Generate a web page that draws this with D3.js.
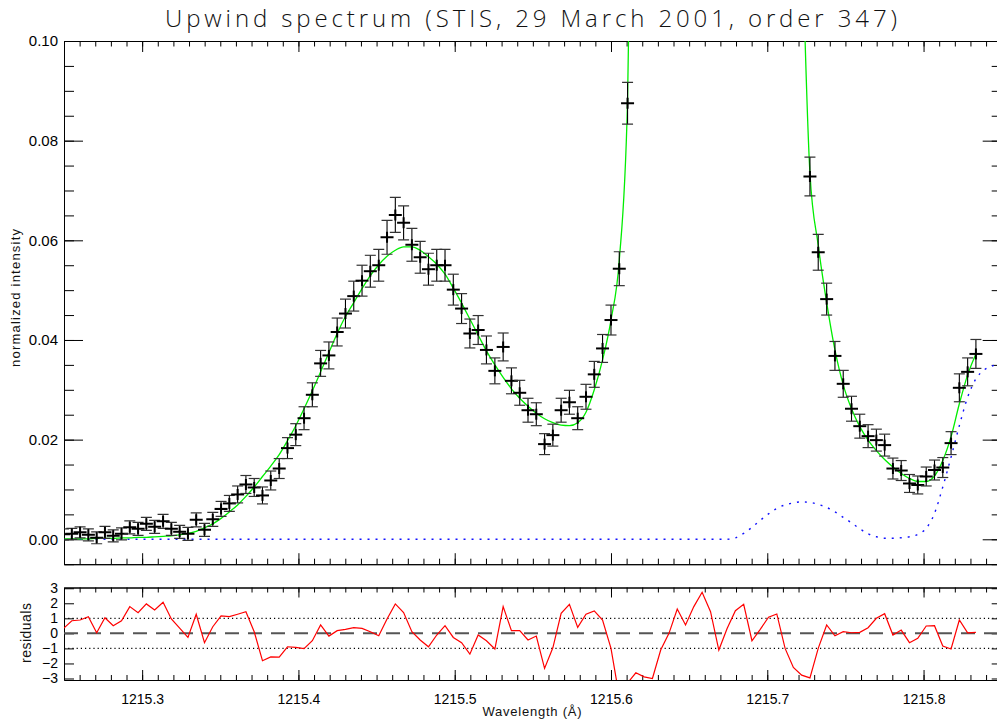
<!DOCTYPE html>
<html>
<head>
<meta charset="utf-8">
<script src="https://cdn.jsdelivr.net/npm/d3@7"></script>
<style>
  body { margin: 0; background: #fff; }
  svg { display: block; font-family: "Liberation Sans", Arial, sans-serif; }
  .axis path, .axis line { stroke: #000; }
  .axis text { fill: #000; font-family: "Liberation Sans", Arial, sans-serif; }
</style>
</head>
<body>
<script>
// wavelength grid of the spectrum (Angstrom)
var wave = [
  1215.2497, 1215.2550, 1215.2603, 1215.2656, 1215.2709, 1215.2762, 1215.2815, 1215.2868, 1215.2921, 1215.2974,
  1215.3027, 1215.3080, 1215.3134, 1215.3187, 1215.3240, 1215.3293, 1215.3346, 1215.3399, 1215.3452, 1215.3505,
  1215.3558, 1215.3611, 1215.3664, 1215.3717, 1215.3770, 1215.3823, 1215.3877, 1215.3930, 1215.3983, 1215.4036,
  1215.4089, 1215.4142, 1215.4195, 1215.4248, 1215.4301, 1215.4354, 1215.4407, 1215.4460, 1215.4514, 1215.4567,
  1215.4620, 1215.4673, 1215.4726, 1215.4779, 1215.4832, 1215.4885, 1215.4938, 1215.4991, 1215.5044, 1215.5097,
  1215.5150, 1215.5203, 1215.5257, 1215.5310, 1215.5363, 1215.5416, 1215.5469, 1215.5522, 1215.5575, 1215.5628,
  1215.5681, 1215.5734, 1215.5787, 1215.5840, 1215.5893, 1215.5946, 1215.6000, 1215.6053, 1215.6106, 1215.6159,
  1215.6212, 1215.6265, 1215.6318, 1215.6371, 1215.6424, 1215.6477, 1215.6530, 1215.6583, 1215.6637, 1215.6690,
  1215.6743, 1215.6796, 1215.6849, 1215.6902, 1215.6955, 1215.7008, 1215.7061, 1215.7114, 1215.7167, 1215.7220,
  1215.7273, 1215.7326, 1215.7380, 1215.7433, 1215.7486, 1215.7539, 1215.7592, 1215.7645, 1215.7698, 1215.7751,
  1215.7804, 1215.7857, 1215.7910, 1215.7963, 1215.8017, 1215.8070, 1215.8123, 1215.8176, 1215.8229, 1215.8282,
  1215.8335
];

// measured normalized intensity (null = off the top of the plot)
var flux = [
  0.0010, 0.0011, 0.0014, 0.0009, 0.0003, 0.0014, 0.0007, 0.0011, 0.0024, 0.0021,
  0.0031, 0.0025, 0.0036, 0.0021, 0.0015, 0.0011, 0.0039, 0.0019, 0.0040, 0.0061,
  0.0072, 0.0090, 0.0110, 0.0104, 0.0088, 0.0118, 0.0142, 0.0183, 0.0210, 0.0243,
  0.0290, 0.0353, 0.0369, 0.0416, 0.0453, 0.0488, 0.0519, 0.0538, 0.0550, 0.0606,
  0.0651, 0.0635, 0.0591, 0.0566, 0.0542, 0.0550, 0.0550, 0.0501, 0.0463, 0.0413,
  0.0420, 0.0380, 0.0338, 0.0386, 0.0318, 0.0294, 0.0259, 0.0251, 0.0191, 0.0209,
  0.0259, 0.0275, 0.0243, 0.0286, 0.0331, 0.0383, 0.0440, 0.0543, 0.0875, null,
  null, null, null, null, null, null, null, null, null, null,
  null, null, null, null, null, null, null, null, null, null,
  0.0728, 0.0576, 0.0482, 0.0368, 0.0312, 0.0262, 0.0227, 0.0207, 0.0199, 0.0189,
  0.0142, 0.0138, 0.0112, 0.0109, 0.0126, 0.0139, 0.0144, 0.0193, 0.0304, 0.0336,
  0.0372
];

var fluxErr = [
  0.0011, 0.0011, 0.0011, 0.0012, 0.0012, 0.0012, 0.0012, 0.0012, 0.0013, 0.0013,
  0.0013, 0.0013, 0.0014, 0.0013, 0.0013, 0.0013, 0.0014, 0.0013, 0.0014, 0.0015,
  0.0016, 0.0017, 0.0018, 0.0018, 0.0017, 0.0019, 0.0020, 0.0021, 0.0022, 0.0023,
  0.0024, 0.0026, 0.0027, 0.0028, 0.0029, 0.0030, 0.0031, 0.0032, 0.0032, 0.0034,
  0.0035, 0.0034, 0.0033, 0.0032, 0.0032, 0.0032, 0.0032, 0.0031, 0.0030, 0.0029,
  0.0029, 0.0028, 0.0026, 0.0028, 0.0026, 0.0025, 0.0024, 0.0023, 0.0021, 0.0022,
  0.0024, 0.0024, 0.0023, 0.0025, 0.0026, 0.0028, 0.0030, 0.0034, 0.0042, null,
  null, null, null, null, null, null, null, null, null, null,
  null, null, null, null, null, null, null, null, null, null,
  0.0039, 0.0036, 0.0032, 0.0029, 0.0027, 0.0025, 0.0024, 0.0023, 0.0022, 0.0022,
  0.0021, 0.0020, 0.0018, 0.0018, 0.0019, 0.0020, 0.0020, 0.0023, 0.0028, 0.0028,
  0.0029
];

// total fit (green)
var fitModel = [
  0.0001, 0.0001, 0.0001, 0.0001, 0.0002, 0.0002, 0.0002, 0.0003, 0.0003, 0.0004,
  0.0004, 0.0005, 0.0006, 0.0007, 0.0009, 0.0012, 0.0016, 0.0023, 0.0031, 0.0042,
  0.0055, 0.0069, 0.0086, 0.0105, 0.0126, 0.0147, 0.0170, 0.0198, 0.0228, 0.0262,
  0.0298, 0.0336, 0.0375, 0.0413, 0.0447, 0.0475, 0.0503, 0.0529, 0.0551, 0.0568,
  0.0580, 0.0587, 0.0587, 0.0580, 0.0567, 0.0552, 0.0532, 0.0504, 0.0474, 0.0442,
  0.0410, 0.0378, 0.0350, 0.0325, 0.0302, 0.0283, 0.0267, 0.0253, 0.0242, 0.0234,
  0.0229, 0.0228, 0.0234, 0.0255, 0.0300, 0.0360, 0.0440, 0.0560, 0.0880, 0.2000,
  0.3000, 0.3500, 0.3800, 0.4000, 0.4000, 0.4000, 0.4000, 0.4000, 0.4000, 0.4000,
  0.4000, 0.4000, 0.4000, 0.4000, 0.3800, 0.3500, 0.3000, 0.2500, 0.2000, 0.1250,
  0.0735, 0.0590, 0.0475, 0.0380, 0.0310, 0.0262, 0.0226, 0.0199, 0.0178, 0.0160,
  0.0145, 0.0132, 0.0122, 0.0116, 0.0116, 0.0127, 0.0158, 0.0206, 0.0272, 0.0330,
  0.0372
];

// second component (blue dotted)
var compWave = [
  1215.2497, 1215.6690, 1215.6743, 1215.6796, 1215.6849, 1215.6902, 1215.6955, 1215.7008, 1215.7061, 1215.7114,
  1215.7167, 1215.7220, 1215.7273, 1215.7326, 1215.7380, 1215.7433, 1215.7486, 1215.7539, 1215.7592, 1215.7645,
  1215.7698, 1215.7751, 1215.7804, 1215.7857, 1215.7910, 1215.7963, 1215.8017, 1215.8070, 1215.8123, 1215.8176,
  1215.8229, 1215.8282, 1215.8335, 1215.8388, 1215.8441, 1215.8494
];
var compFlux = [
  0.0000, 0.0000, 0.0000, 0.0003, 0.0012, 0.0024, 0.0038, 0.0051, 0.0062, 0.0069,
  0.0073, 0.0075, 0.0074, 0.0070, 0.0064, 0.0055, 0.0044, 0.0033, 0.0021, 0.0011,
  0.0005, 0.0002, 0.0002, 0.0003, 0.0005, 0.0010, 0.0022, 0.0052, 0.0105, 0.0165,
  0.0228, 0.0285, 0.0322, 0.0340, 0.0348, 0.0352
];

// normalized residuals
var residuals = [
  0.33, 0.84, 0.89, 1.11, 0.04, 1.04, 0.51, 0.84, 1.78, 1.38,
  1.96, 1.56, 2.07, 0.96, 0.35, -0.27, 1.27, -0.62, 0.44, 1.16,
  1.11, 1.27, 1.44, 0.11, -1.82, -1.56, -1.58, -0.89, -0.93, -1.02,
  -0.49, 0.56, -0.18, 0.18, 0.27, 0.38, 0.33, 0.11, -0.16, 0.96,
  1.96, 1.38, 0.11, -0.44, -0.89, -0.11, 0.51, -0.27, -0.62, -1.38,
  -0.11, -0.49, -1.04, 1.78, 0.18, 0.18, -0.44, -0.18, -2.33, -0.96,
  1.33, 1.93, 0.40, 1.27, 1.49, 0.89, -1.00, -4.20, -3.30, -2.62,
  -2.89, -3.00, -1.11, 0.00, 1.62, 0.56, 1.78, 2.73, 1.44, -1.11,
  0.33, 1.51, 1.93, -0.49, 0.27, 1.07, 1.29, -1.00, -2.27, -2.78,
  -2.96, -1.00, 0.56, -0.16, 0.11, 0.04, 0.07, 0.38, 1.00, 1.31,
  -0.11, 0.22, -0.62, -0.33, 0.49, 0.51, -0.84, -1.04, 0.89, 0.04,
  0.07
];

var xMajor = [1215.3, 1215.4, 1215.5, 1215.6, 1215.7, 1215.8];
var yMajor = [0.00, 0.02, 0.04, 0.06, 0.08, 0.10];
var resTicks = [-3, -2, -1, 0, 1, 2, 3];

var width = 997, height = 722;
var left = 64, right = 1001.7;
var mainTop = 41, mainBottom = 564.2;
var resTop = 587.5, resBottom = 680;

var svg = d3.select("body").append("svg")
    .attr("width", width)
    .attr("height", height);

svg.append("rect").attr("width", width).attr("height", height).attr("fill", "#fff");

var x = d3.scaleLinear().domain([1215.25, 1215.85]).range([left, right]);
var y = d3.scaleLinear().domain([-0.005, 0.10]).range([mainBottom, mainTop]);
var yr = d3.scaleLinear().domain([-3.1, 3.05]).range([resBottom, resTop]);

var defs = svg.append("defs");
defs.append("clipPath").attr("id", "clipMain")
  .append("rect").attr("x", left).attr("y", mainTop)
  .attr("width", right - left).attr("height", mainBottom - mainTop);
defs.append("clipPath").attr("id", "clipRes")
  .append("rect").attr("x", left).attr("y", resTop)
  .attr("width", right - left).attr("height", resBottom - resTop);

var xMinor = x.ticks(60);
var yMinor = y.ticks(21);

// draws the box and ticks of a panel
function frame(ys, yTop, yBottom, xLen, xMinorLen, opts) {
  var g = svg.append("g").attr("class", "axis");

  g.append("g").attr("transform", "translate(0," + yBottom + ")")
    .call(d3.axisBottom(x).tickValues(xMinor).tickSize(-xMinorLen).tickSizeOuter(0).tickFormat(""));
  var bottom = g.append("g").attr("transform", "translate(0," + yBottom + ")")
    .call(d3.axisBottom(x).tickValues(xMajor).tickSize(-xLen).tickSizeOuter(0)
      .tickPadding(opts.xLabels ? 14 : 0)
      .tickFormat(opts.xLabels ? d3.format(".1f") : ""));
  bottom.selectAll("text").attr("font-size", 14).attr("fill", "#111");

  g.append("g").attr("transform", "translate(0," + yTop + ")")
    .call(d3.axisTop(x).tickValues(xMinor).tickSize(-xMinorLen).tickSizeOuter(0).tickFormat(""));
  g.append("g").attr("transform", "translate(0," + yTop + ")")
    .call(d3.axisTop(x).tickValues(xMajor).tickSize(-xLen).tickSizeOuter(0).tickFormat(""));

  if (opts.yMinor) {
    g.append("g").attr("transform", "translate(" + left + ",0)")
      .call(d3.axisLeft(ys).tickValues(opts.yMinor).tickSize(-opts.yMinorLen).tickSizeOuter(0).tickFormat(""));
    g.append("g").attr("transform", "translate(" + right + ",0)")
      .call(d3.axisRight(ys).tickValues(opts.yMinor).tickSize(-opts.yMinorLen).tickSizeOuter(0).tickFormat(""));
  }
  var leftAx = g.append("g").attr("transform", "translate(" + left + ",0)")
    .call(d3.axisLeft(ys).tickValues(opts.yMajor).tickSize(-opts.yLen).tickSizeOuter(0)
      .tickPadding(6).tickFormat(opts.yFormat));
  leftAx.selectAll("text").attr("font-size", opts.yFont).attr("fill", "#111");
  g.append("g").attr("transform", "translate(" + right + ",0)")
    .call(d3.axisRight(ys).tickValues(opts.yMajor).tickSize(-opts.yLen).tickSizeOuter(0).tickFormat(""));
  return g;
}

frame(y, mainTop, mainBottom, 11, 5.5, {
  yMajor: yMajor, yMinor: yMinor, yLen: 19, yMinorLen: 10,
  yFormat: d3.format(".2f"), yFont: 15, xLabels: false
});

frame(yr, resTop, resBottom, 10, 5, {
  yMajor: resTicks, yMinor: null, yLen: 10, yMinorLen: 0,
  yFormat: d3.format("d"), yFont: 14, xLabels: true
});

// ---- main panel ----
var plot = svg.append("g").attr("clip-path", "url(#clipMain)");

plot.append("path")
    .datum(compWave.map(function(w, i) { return [w, compFlux[i]]; }))
    .attr("fill", "none")
    .attr("stroke", "#1010ff")
    .attr("stroke-width", 1.4)
    .attr("stroke-dasharray", "2,6")
    .attr("d", d3.line()
      .x(function(d) { return x(d[0]); })
      .y(function(d) { return y(d[1]); })
      .curve(d3.curveMonotoneX));

plot.append("path")
    .datum(wave.map(function(w, i) { return [w, fitModel[i]]; }))
    .attr("fill", "none")
    .attr("stroke", "#00ee00")
    .attr("stroke-width", 1.3)
    .attr("d", d3.line()
      .x(function(d) { return x(d[0]); })
      .y(function(d) { return y(d[1]); })
      .curve(d3.curveMonotoneX));

var pts = wave.map(function(w, i) { return {w: w, v: flux[i], e: fluxErr[i]}; })
    .filter(function(d) { return d.v != null; });

var bar = plot.selectAll(".pt").data(pts).enter().append("g")
    .attr("class", "pt")
    .attr("transform", function(d) { return "translate(" + x(d.w) + ",0)"; });

bar.append("line")
    .attr("y1", function(d) { return y(d.v - d.e); })
    .attr("y2", function(d) { return y(d.v + d.e); })
    .attr("stroke", "#000").attr("stroke-width", 1.1);
bar.append("line")
    .attr("x1", -5.5).attr("x2", 5.5)
    .attr("y1", function(d) { return y(d.v - d.e); })
    .attr("y2", function(d) { return y(d.v - d.e); })
    .attr("stroke", "#333").attr("stroke-width", 1.2);
bar.append("line")
    .attr("x1", -5.5).attr("x2", 5.5)
    .attr("y1", function(d) { return y(d.v + d.e); })
    .attr("y2", function(d) { return y(d.v + d.e); })
    .attr("stroke", "#333").attr("stroke-width", 1.2);
// plus symbol
bar.append("line")
    .attr("x1", -6.5).attr("x2", 6.5)
    .attr("y1", function(d) { return y(d.v); })
    .attr("y2", function(d) { return y(d.v); })
    .attr("stroke", "#000").attr("stroke-width", 2);
bar.append("line")
    .attr("y1", function(d) { return y(d.v) - 5.5; })
    .attr("y2", function(d) { return y(d.v) + 5.5; })
    .attr("stroke", "#000").attr("stroke-width", 2);

// ---- residual panel ----
var res = svg.append("g").attr("clip-path", "url(#clipRes)");

res.append("line")
    .attr("x1", left).attr("x2", right)
    .attr("y1", yr(0)).attr("y2", yr(0))
    .attr("stroke", "#555").attr("stroke-width", 2)
    .attr("stroke-dasharray", "14,9");

[-1, 1].forEach(function(v) {
  res.append("line")
      .attr("x1", left).attr("x2", right)
      .attr("y1", yr(v)).attr("y2", yr(v))
      .attr("stroke", "#000").attr("stroke-width", 1.2)
      .attr("stroke-dasharray", "1.2,3");
});

res.append("path")
    .datum(wave.map(function(w, i) { return [w, residuals[i]]; }))
    .attr("fill", "none")
    .attr("stroke", "#ff0000")
    .attr("stroke-width", 1.2)
    .attr("d", d3.line()
      .x(function(d) { return x(d[0]); })
      .y(function(d) { return yr(d[1]); }));

// ---- labels ----
svg.append("text")
    .attr("x", 531).attr("y", 27)
    .attr("text-anchor", "middle")
    .attr("font-family", "'Open Sans', 'Liberation Sans', sans-serif")
    .attr("font-weight", 300)
    .attr("font-size", 24)
    .attr("textLength", 732)
    .attr("lengthAdjust", "spacing")
    .attr("fill", "#111")
    .text("Upwind spectrum (STIS, 29 March 2001, order 347)");

svg.append("text")
    .attr("transform", "translate(20,298) rotate(-90)")
    .attr("text-anchor", "middle")
    .attr("font-size", 13)
    .attr("textLength", 138)
    .attr("lengthAdjust", "spacing")
    .attr("fill", "#111")
    .text("normalized intensity");

svg.append("text")
    .attr("transform", "translate(31,633) rotate(-90)")
    .attr("text-anchor", "middle")
    .attr("font-size", 14)
    .attr("textLength", 60)
    .attr("lengthAdjust", "spacing")
    .attr("fill", "#111")
    .text("residuals");

svg.append("text")
    .attr("x", 532).attr("y", 716)
    .attr("text-anchor", "middle")
    .attr("font-size", 13)
    .attr("textLength", 99)
    .attr("lengthAdjust", "spacing")
    .attr("fill", "#111")
    .text("Wavelength (Å)");
</script>
</body>
</html>
